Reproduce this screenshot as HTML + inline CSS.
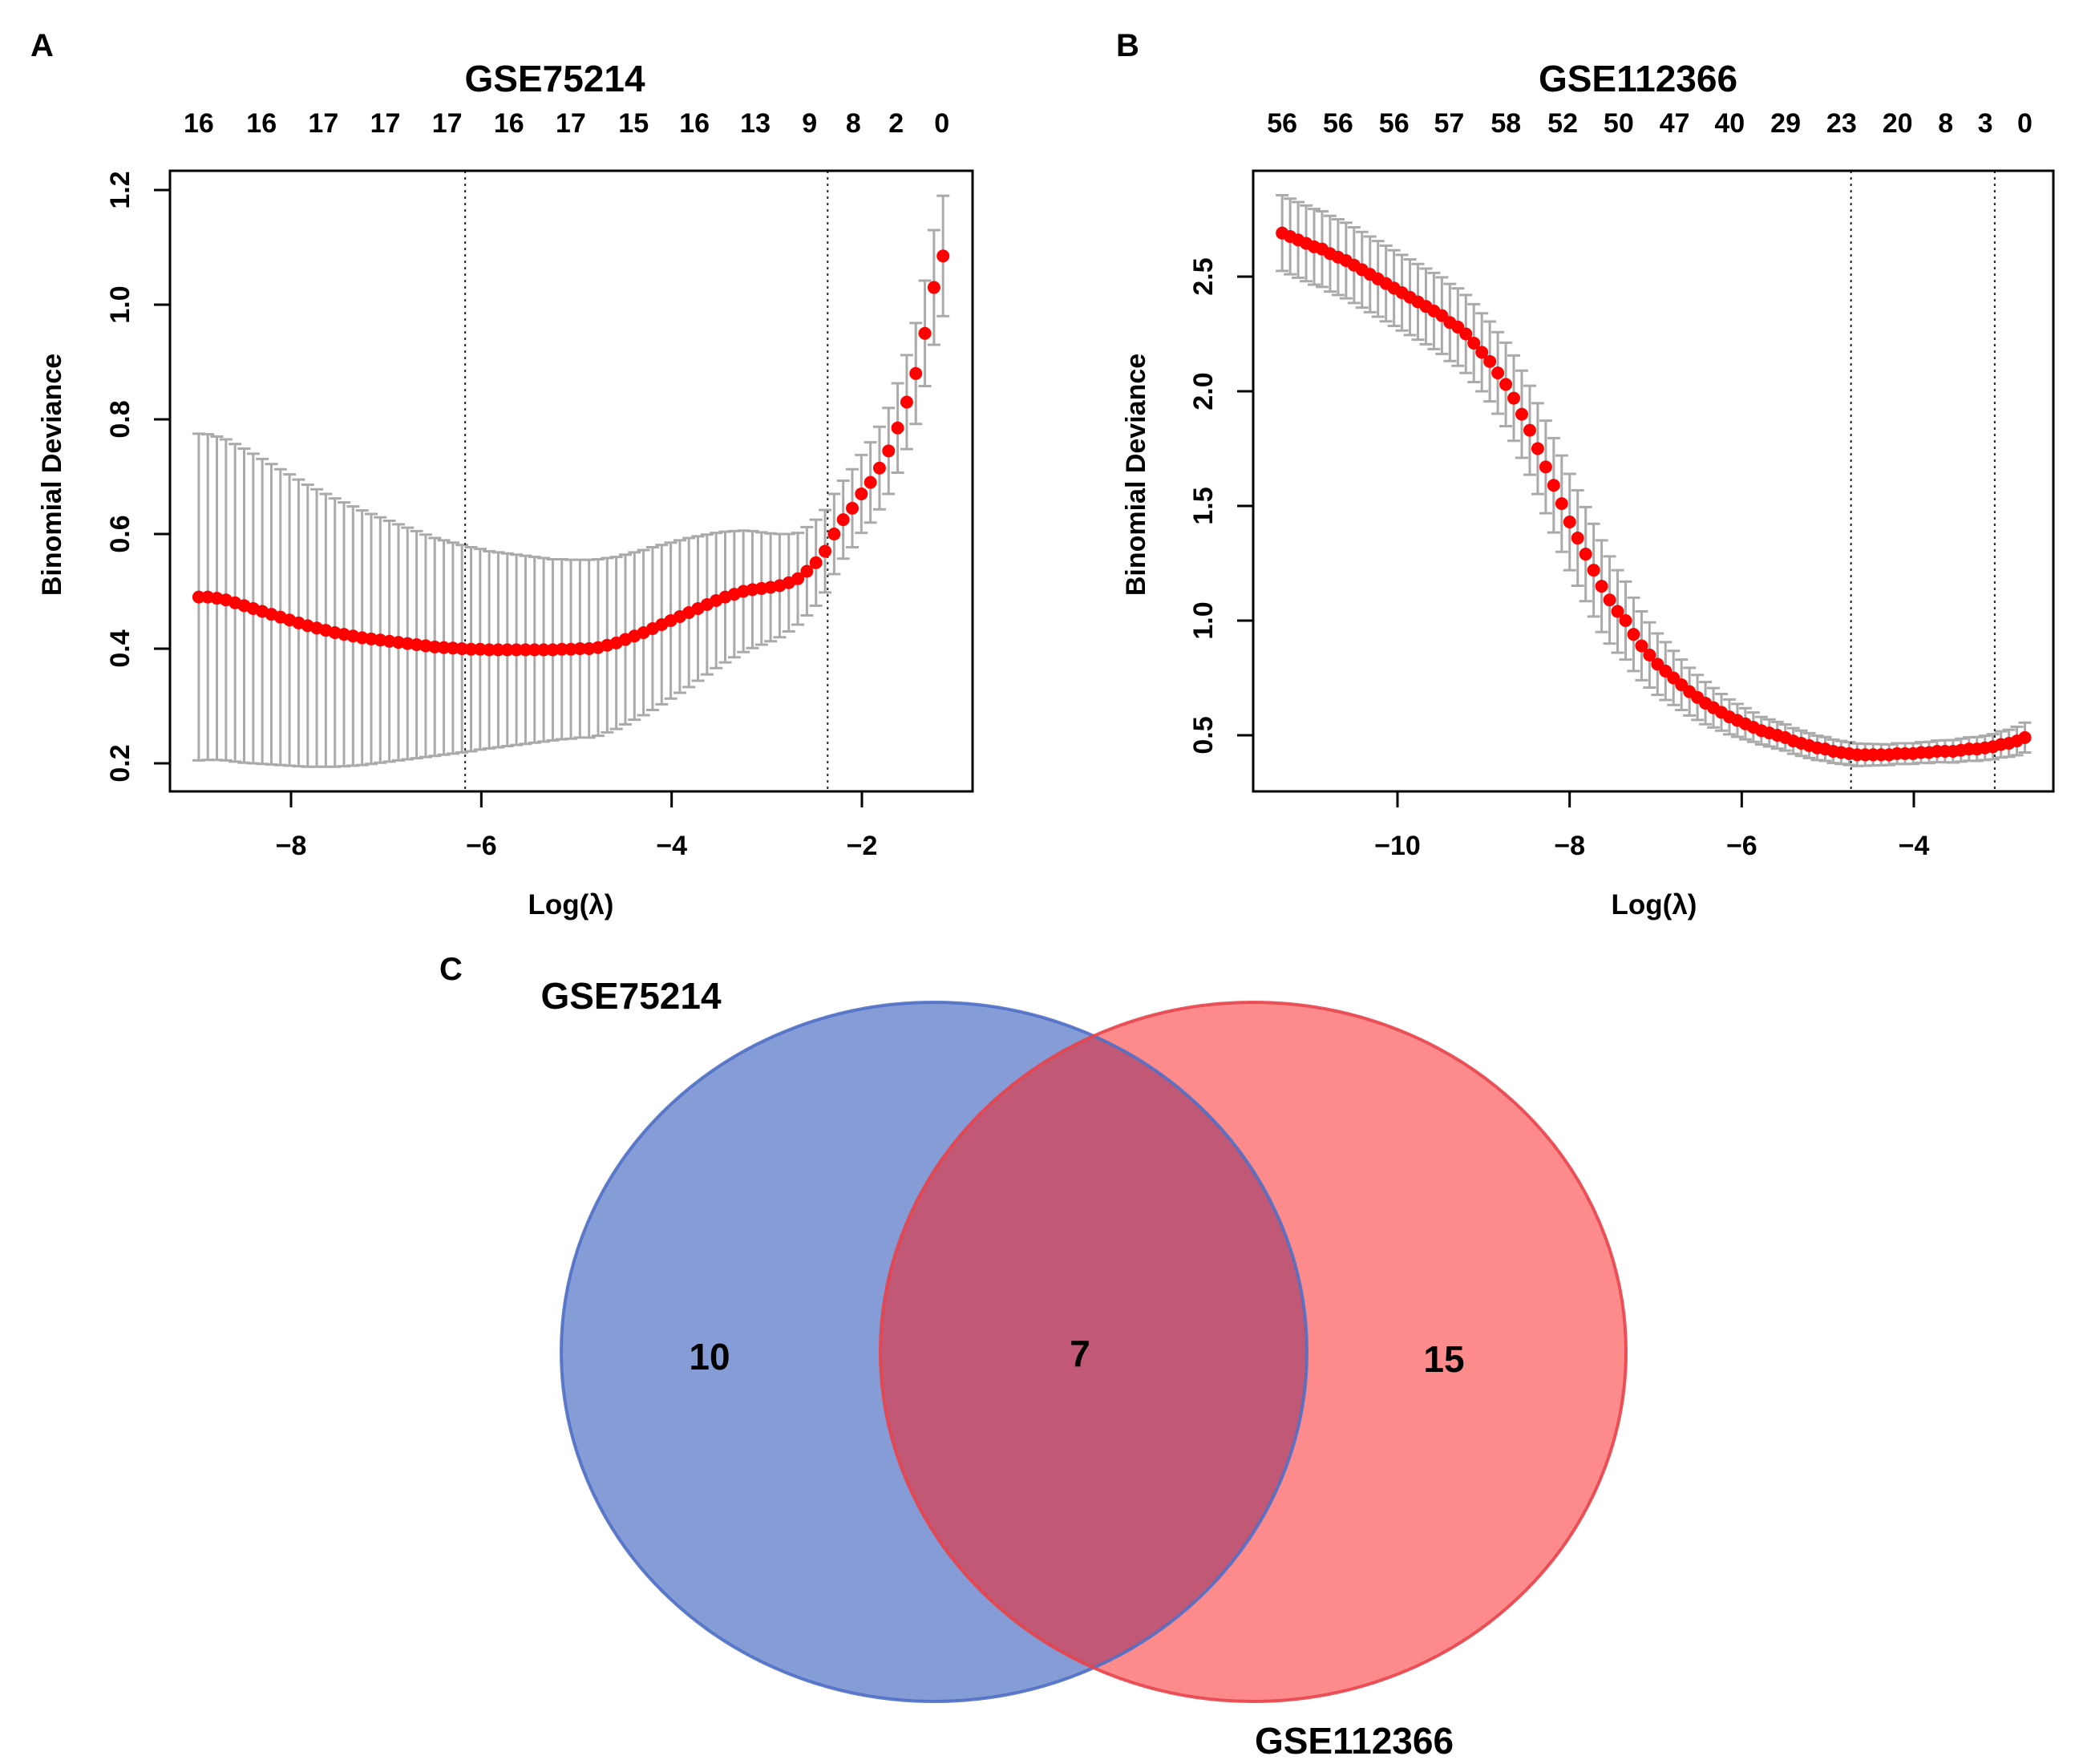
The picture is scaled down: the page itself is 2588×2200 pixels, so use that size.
<!DOCTYPE html>
<html><head><meta charset="utf-8"><style>
html,body{margin:0;padding:0;background:#fff}
svg{display:block;font-family:"Liberation Sans",Arial,sans-serif;font-weight:bold}
</style></head><body>
<svg id="fig" width="2588" height="2200" viewBox="0 0 2588 2200" xmlns="http://www.w3.org/2000/svg">
<rect width="2588" height="2200" fill="#fff"/>
<g id="pa"></g>
<g id="pb"></g>
<g id="pc">
<defs><clipPath id="clipBlue"><ellipse cx="1165" cy="1686" rx="465" ry="436"/></clipPath></defs>
<text x="548" y="1222" font-size="40">C</text>
<ellipse cx="1165" cy="1686" rx="465" ry="436" fill="#869cd6"/>
<ellipse cx="1563" cy="1686" rx="465" ry="436" fill="#fe8b8b"/>
<ellipse cx="1563" cy="1686" rx="465" ry="436" fill="#c15976" clip-path="url(#clipBlue)"/>
<ellipse cx="1165" cy="1686" rx="465" ry="436" fill="none" stroke="#4f6fc6" stroke-width="4" opacity="0.9"/>
<ellipse cx="1563" cy="1686" rx="465" ry="436" fill="none" stroke="#e8434a" stroke-width="4" opacity="0.9"/>
<text x="787" y="1258" font-size="46" text-anchor="middle">GSE75214</text>
<text x="1689" y="2187" font-size="46" text-anchor="middle">GSE112366</text>
<text x="885" y="1708" font-size="46" text-anchor="middle">10</text>
<text x="1347" y="1704" font-size="46" text-anchor="middle">7</text>
<text x="1801" y="1711" font-size="46" text-anchor="middle">15</text>
</g>
</svg>
<script>
// ---- Panel A data (GSE75214) ----
const aLamStart = -8.97, aLamStep = 0.0954;
const aMean = [0.49,0.49,0.488,0.485,0.48,0.475,0.47,0.465,0.46,0.455,
0.45,0.445,0.44,0.436,0.432,0.428,0.425,0.422,0.419,0.417,
0.415,0.413,0.411,0.409,0.407,0.405,0.403,0.402,0.401,0.40,
0.399,0.399,0.398,0.398,0.398,0.398,0.398,0.398,0.398,0.398,
0.399,0.399,0.40,0.40,0.402,0.406,0.41,0.416,0.422,0.428,
0.435,0.442,0.449,0.456,0.463,0.47,0.477,0.484,0.49,0.495,
0.50,0.503,0.505,0.507,0.51,0.515,0.522,0.535,0.55,0.57,
0.60,0.625,0.645,0.67,0.69,0.715,0.745,0.785,0.83,0.88,0.95,1.03,1.085];
const aSe = [0.285,0.284,0.282,0.28,0.277,0.274,0.27,0.266,0.262,0.258,
0.254,0.25,0.246,0.242,0.238,0.234,0.23,0.226,0.222,0.218,
0.214,0.21,0.206,0.202,0.198,0.194,0.19,0.187,0.184,0.181,
0.178,0.175,0.172,0.17,0.168,0.166,0.164,0.162,0.16,0.158,
0.157,0.156,0.155,0.155,0.154,0.152,0.15,0.148,0.146,0.144,
0.142,0.139,0.136,0.133,0.13,0.126,0.122,0.118,0.114,0.11,
0.106,0.102,0.098,0.094,0.09,0.085,0.08,0.077,0.075,0.072,
0.07,0.068,0.068,0.068,0.07,0.072,0.075,0.078,0.082,0.088,0.092,0.1,0.105];
const aXTicks = [-8,-6,-4,-2];
const aYTicks = [0.2,0.4,0.6,0.8,1.0,1.2];
const aTopLabels = ["16","16","17","17","17","16","17","15","16","13","9","8","2","0"];
const aTopPos = [-8.97,-8.31,-7.66,-7.01,-6.36,-5.71,-5.06,-4.40,-3.76,-3.12,-2.55,-2.09,-1.64,-1.16];
const aVLines = [-6.17,-2.36];

// ---- Panel B data (GSE112366) ----
const bLamStart = -11.34, bLamStep = 0.0928;
const bMean = [2.69,2.675,2.66,2.645,2.63,2.62,2.60,2.585,2.57,2.55,2.53,
2.51,2.49,2.47,2.45,2.43,2.41,2.39,2.37,2.35,2.33,
2.30,2.28,2.25,2.21,2.17,2.13,2.08,2.03,1.97,1.90,
1.83,1.75,1.67,1.59,1.51,1.43,1.36,1.29,1.22,1.15,
1.09,1.04,1.00,0.94,0.89,0.85,0.81,0.78,0.75,0.72,
0.69,0.665,0.64,0.62,0.60,0.58,0.565,0.55,0.535,0.52,
0.51,0.50,0.49,0.475,0.465,0.455,0.445,0.44,0.43,0.425,
0.42,0.415,0.415,0.415,0.415,0.415,0.42,0.42,0.42,0.425,
0.425,0.43,0.43,0.43,0.435,0.44,0.44,0.445,0.45,0.46,0.465,0.475,0.49];
const bSe = [0.165,0.165,0.165,0.165,0.165,0.165,0.165,0.165,0.165,0.165,0.165,
0.165,0.165,0.165,0.165,0.165,0.165,0.165,0.165,0.166,0.167,
0.168,0.169,0.17,0.17,0.17,0.174,0.178,0.182,0.186,0.19,
0.194,0.198,0.202,0.206,0.21,0.21,0.208,0.205,0.202,0.2,
0.19,0.18,0.17,0.16,0.15,0.142,0.134,0.126,0.118,0.11,
0.104,0.098,0.092,0.086,0.08,0.076,0.072,0.068,0.064,0.06,
0.059,0.058,0.057,0.056,0.055,0.054,0.053,0.052,0.051,0.05,
0.05,0.049,0.048,0.047,0.046,0.045,0.045,0.045,0.045,0.045,
0.046,0.047,0.048,0.049,0.05,0.051,0.052,0.053,0.055,0.057,0.059,0.062,0.065];
const bXTicks = [-10,-8,-6,-4];
const bYTicks = [0.5,1.0,1.5,2.0,2.5];
const bTopLabels = ["56","56","56","57","58","52","50","47","40","29","23","20","8","3","0"];
const bTopPos = [-11.34,-10.69,-10.04,-9.40,-8.74,-8.08,-7.43,-6.78,-6.14,-5.49,-4.84,-4.19,-3.63,-3.17,-2.71];
const bVLines = [-4.73,-3.06];

const NS = "http://www.w3.org/2000/svg";
function mk(parent, tag, attrs, text){
  const e = document.createElementNS(NS, tag);
  for (const k in attrs) e.setAttribute(k, attrs[k]);
  if (text !== undefined) e.textContent = text;
  parent.appendChild(e);
  return e;
}

function drawPanel(g, cfg){
  const L=cfg.box[0], R=cfg.box[1], T=cfg.box[2], B=cfg.box[3];
  const sx = v => cfg.xPix[0] + (v - cfg.xVal[0]) * (cfg.xPix[1]-cfg.xPix[0])/(cfg.xVal[1]-cfg.xVal[0]);
  const sy = v => cfg.yPix[0] + (v - cfg.yVal[0]) * (cfg.yPix[1]-cfg.yPix[0])/(cfg.yVal[1]-cfg.yVal[0]);
  let e;
  e = mk(g,'text',{x:cfg.letter[1],y:cfg.letter[2],'font-size':40},cfg.letter[0]);
  
  
  e = mk(g,'text',{x:cfg.titleX,y:114,'font-size':46,'text-anchor':'middle'},cfg.title);
  
  
  cfg.topLabels.forEach((t,i)=>{
    const el = mk(g,'text',{x:sx(cfg.topPos[i]),y:165,'font-size':34,'text-anchor':'middle'},t);
    
    
  });
  const lam = i => cfg.lamStart + i*cfg.lamStep;
  cfg.mean.forEach((m,i)=>{
    const x = sx(lam(i)), y1 = sy(m+cfg.se[i]), y2 = sy(m-cfg.se[i]);
    const eb = mk(g,'path',{d:`M${x},${y1}V${y2}M${x-8},${y1}H${x+8}M${x-8},${y2}H${x+8}`,stroke:'#aaaaaa','stroke-width':3,fill:'none'});
    
    
  });
  cfg.vlines.forEach(v=>{
    const vl = mk(g,'line',{x1:sx(v),x2:sx(v),y1:T,y2:B,stroke:'#222','stroke-width':2,'stroke-dasharray':'3,5'});
    
    
  });
  cfg.mean.forEach((m,i)=>{
    const p = mk(g,'circle',{cx:sx(lam(i)),cy:sy(m),r:8,fill:'#ff0000'});
    
    
  });
  e = mk(g,'rect',{x:L,y:T,width:R-L,height:B-T,fill:'none',stroke:'#000','stroke-width':3});
  
  
  cfg.xTicks.forEach(v=>{
    const x = sx(v);
    const tk = mk(g,'line',{x1:x,x2:x,y1:B,y2:B+20,stroke:'#000','stroke-width':3});
    
    
    const tl = mk(g,'text',{x:x,y:1066,'font-size':34,'text-anchor':'middle'},'\u2212'+Math.abs(v));
    
    
  });
  cfg.yTicks.forEach(v=>{
    const y = sy(v);
    const tk = mk(g,'line',{x1:L-20,x2:L,y1:y,y2:y,stroke:'#000','stroke-width':3});
    
    
    const tx = L-62;
    const tl = mk(g,'text',{x:tx,y:y,'font-size':34,'text-anchor':'middle','dominant-baseline':'central',transform:`rotate(-90 ${tx} ${y})`},v.toFixed(1));
    
    
  });
  e = mk(g,'text',{x:cfg.xTitleX,y:1140,'font-size':35,'text-anchor':'middle'},'Log(\u03bb)');
  
  
  const yx = cfg.yTitleX, yy = 592;
  e = mk(g,'text',{x:yx,y:yy,'font-size':34,'text-anchor':'middle',transform:`rotate(-90 ${yx} ${yy})`},'Binomial Deviance');
  
  
}

drawPanel(document.getElementById('pa'),{
  box:[212,1213,213,987], xPix:[363,1075], xVal:[-8,-2], yPix:[952,237], yVal:[0.2,1.2],
  lamStart:aLamStart, lamStep:aLamStep, mean:aMean, se:aSe, xTicks:aXTicks, yTicks:aYTicks,
  topLabels:aTopLabels, topPos:aTopPos, vlines:aVLines, title:'GSE75214', titleX:692, xTitleX:712, letter:['A',38,70], yTitleX:76
});
drawPanel(document.getElementById('pb'),{
  box:[1563,2561,213,987], xPix:[1743,2387], xVal:[-10,-4], yPix:[917,345], yVal:[0.5,2.5],
  lamStart:bLamStart, lamStep:bLamStep, mean:bMean, se:bSe, xTicks:bXTicks, yTicks:bYTicks,
  topLabels:bTopLabels, topPos:bTopPos, vlines:bVLines, title:'GSE112366', titleX:2043, xTitleX:2063, letter:['B',1392,70], yTitleX:1428
});
</script>
</body></html>
